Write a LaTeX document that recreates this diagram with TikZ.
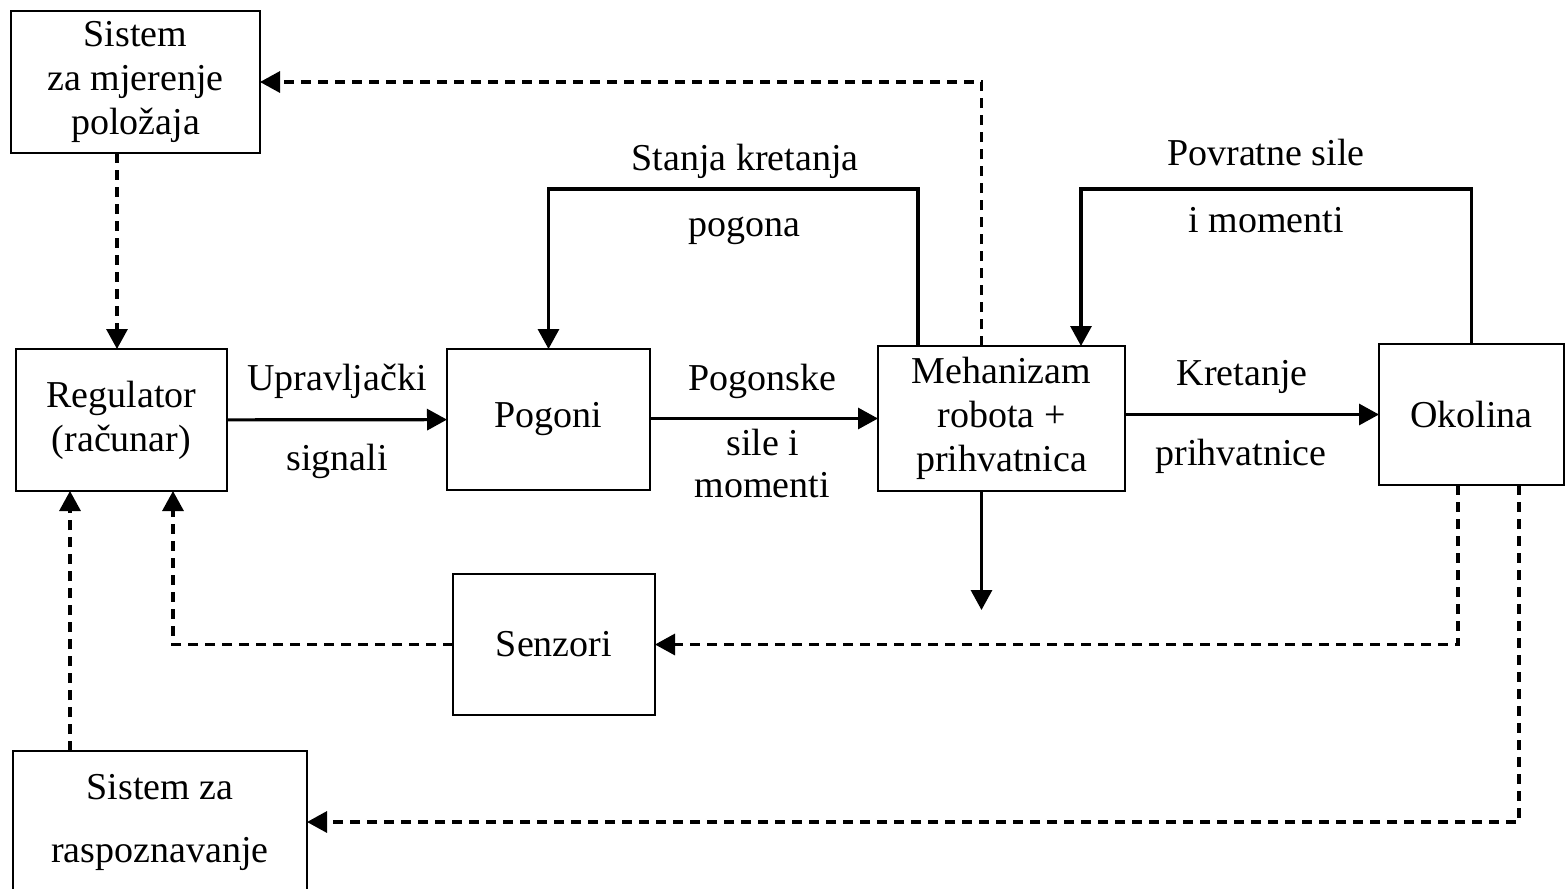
\documentclass[tikz,border=0pt]{standalone}
\usepackage{fontspec}
\setmainfont{Liberation Serif}
\usetikzlibrary{positioning,arrows.meta}

\begin{document}
\begin{tikzpicture}[
  x=0.5pt, y=-0.5pt,
  every node/.style={font=\fontsize{19}{22}\selectfont},
  box/.style={draw,line width=1.4pt,align=center,inner sep=0pt,outer sep=0pt},
  lbl/.style={anchor=base,inner sep=0pt},
  arr/.style={line width=1.6pt,-{Triangle[length=10pt,width=10.5pt]}},
  dsh/.style={arr,dash pattern=on 5pt off 3.5pt}
]
\clip (0,0) rectangle (1565,889);

% main chain
\node[box,minimum width=105.5pt,minimum height=71pt] (reg) at (121.5,420) {Regulator\\(računar)};
\node[box,minimum width=101.5pt,minimum height=70.5pt] (pog) at (548.5,419.5) {Pogoni};
\node[box,minimum width=123.5pt,minimum height=72.5pt] (meh) at (1001.5,418.5) {Mehanizam\\robota +\\prihvatnica};
\node[box,minimum width=92.5pt,minimum height=70.5pt] (oko) at (1471.5,414.5) {Okolina};

% measuring and sensing blocks
\node[box,minimum width=124.5pt,minimum height=71pt] (mjer) at (135.5,82) {Sistem\\za mjerenje\\položaja};
\node[box,minimum width=101pt,minimum height=70.5pt] (sen) at (554,644.5) {Senzori};
\node[box,minimum width=147pt,minimum height=71pt] (ras) at (160,822) {Sistem za\\[9.5pt]raspoznavanje};
\coordinate[below=59.5pt of meh.south,xshift=-10pt] (out);

% signal labels
\node[lbl] (u1) at (337,390) {Upravljački};
\node[lbl] (u2) at (337,470) {signali};
\node[lbl] (p1) at (762,390) {Pogonske};
\node[lbl] (p2) at (763,455) {sile i};
\node[lbl] (p3) at (762,497) {momenti};
\node[lbl] (s1) at (745,170) {Stanja kretanja};
\node[lbl] (s2) at (744,236) {pogona};
\node[lbl] (v1) at (1266,165) {Povratne sile};
\node[lbl] (v2) at (1266,232) {i momenti};
\node[lbl] (k1) at (1242,385) {Kretanje};
\node[lbl] (k2) at (1241,465) {prihvatnice};

\draw[arr] (reg) -- (pog);
\draw[arr] (pog.east |- meh) -- (meh.west);
\draw[arr] (meh.east |- oko) -- (oko.west);
\draw[arr] ([xshift=-10pt]meh.south) -- (out);

% feedback loops
\draw[arr] ([xshift=-41.75pt]meh.north) -- ++(0,-157) -| (pog.north);
\draw[arr] (oko.north) -- ++(0,-155) -| ([xshift=39.75pt]meh.north);

% dashed measurement paths
\draw[dsh] ([xshift=-10pt]meh.north) |- (mjer.east);
\draw[dsh] ([xshift=-9.25pt]mjer.south) -- ([xshift=-9.25pt]mjer.south |- reg.north);
\draw[dsh] ([xshift=-6.75pt]oko.south) |- (sen.east);
\draw[dsh] (sen.west) -| ([xshift=25.75pt]reg.south);
\draw[dsh] ([xshift=23.75pt]oko.south) |- (ras.east);
\draw[dsh] ([xshift=-45pt]ras.north) -- ([xshift=-45pt]ras.north |- reg.south);
\end{tikzpicture}
\end{document}
